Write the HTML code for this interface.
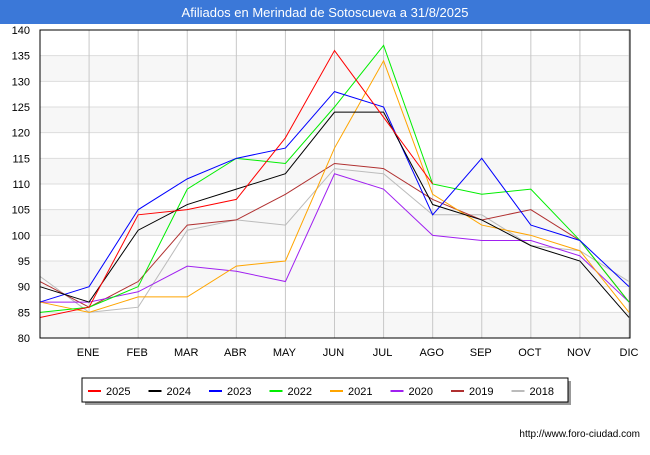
<!DOCTYPE html>
<html><head><meta charset="utf-8"><style>
body{margin:0;width:650px;height:450px;background:#fff;font-family:"Liberation Sans",sans-serif;overflow:hidden}
</style></head><body>
<svg width="650" height="450" xmlns="http://www.w3.org/2000/svg">
<rect x="0" y="0" width="650" height="24" fill="#3b78d8"/>
<text x="325" y="17" text-anchor="middle" fill="#fff" font-size="13">Afiliados en Merindad de Sotoscueva a 31/8/2025</text>
<g id="bands"></g><g id="grid"></g><g id="lines"></g>
<rect x="40" y="30" width="590" height="308" fill="none" stroke="#000" stroke-width="1"/>
<g id="legend"></g>
<text x="640" y="437" text-anchor="end" font-size="10" fill="#000">http://www.foro-ciudad.com</text>
</svg>
<script>
const months=["","ENE","FEB","MAR","ABR","MAY","JUN","JUL","AGO","SEP","OCT","NOV","DIC"];
const yTicks=[80,85,90,95,100,105,110,115,120,125,130,135,140];
const seriesNames=["2025","2024","2023","2022","2021","2020","2019","2018"];
const seriesColors=["#ff0000","#000000","#0000ff","#00ee00","#ffa500","#a020f0","#b03030","#bbbbbb"];
const s2025=[84,86,104,105,107,119,136,123,110];
const s2024=[90,87,101,106,109,112,124,124,106,103,98,95,84];
const s2023=[87,90,105,111,115,117,128,125,104,115,102,99,90];
const s2022=[85,86,90,109,115,114,125,137,110,108,109,99,87];
const s2021=[87,85,88,88,94,95,117,134,108,102,100,97,85];
const s2020=[87,87,89,94,93,91,112,109,100,99,99,96,87];
const s2019=[91,86,91,102,103,108,114,113,107,103,105,99,87];
const s2018=[92,85,86,101,103,102,113,112,104,104,98,97,91];
const allSeries=[s2025,s2024,s2023,s2022,s2021,s2020,s2019,s2018];
const NS="http://www.w3.org/2000/svg";
const X=i=>40+i*(589/12);
const Y=v=>338-(v-80)*(308/60);
function mk(t,a,p){const e=document.createElementNS(NS,t);for(const k in a)e.setAttribute(k,a[k]);p.appendChild(e);return e;}
const bands=document.getElementById('bands'),grid=document.getElementById('grid'),lines=document.getElementById('lines'),leg=document.getElementById('legend');
for(let i=0;i<yTicks.length-1;i++){if(i%2===0){const r=mk('rect',{x:40,y:Y(yTicks[i+1]),width:590,height:Y(yTicks[i])-Y(yTicks[i+1]),fill:'#f7f7f7'},bands);

}}
yTicks.forEach(v=>{const l=mk('line',{x1:40,x2:630,y1:Y(v),y2:Y(v),stroke:'#dddddd'},grid);


const t=mk('text',{x:30,y:Y(v)+4,'text-anchor':'end','font-size':11,fill:'#000'},grid);t.textContent=v;

});
months.forEach((m,i)=>{if(i===0)return;const l=mk('line',{x1:X(i),x2:X(i),y1:30,y2:338,stroke:'#c8c8c8'},grid);


const t=mk('text',{x:X(i)-(i===12?0:1),y:356,'text-anchor':'middle','font-size':11,fill:'#000'},grid);t.textContent=m;

});
for(let s=allSeries.length-1;s>=0;s--){const d=allSeries[s].map((v,i)=>X(i)+','+Y(v)).join(' ');
const p=mk('polyline',{points:d,fill:'none',stroke:seriesColors[s],'stroke-width':1},lines);

}
const sh=mk('rect',{x:85,y:381,width:486,height:24,fill:'#999'},leg);


const box=mk('rect',{x:82,y:378,width:486,height:24,fill:'#fff',stroke:'#000'},leg);


seriesNames.forEach((n,i)=>{const x0=88+i*60.5;
const l=mk('line',{x1:x0,x2:x0+13,y1:391,y2:391,stroke:seriesColors[i],'stroke-width':2},leg);


const t=mk('text',{x:x0+18,y:395,'font-size':11,fill:'#000'},leg);t.textContent=n;

});
</script>
</body></html>
